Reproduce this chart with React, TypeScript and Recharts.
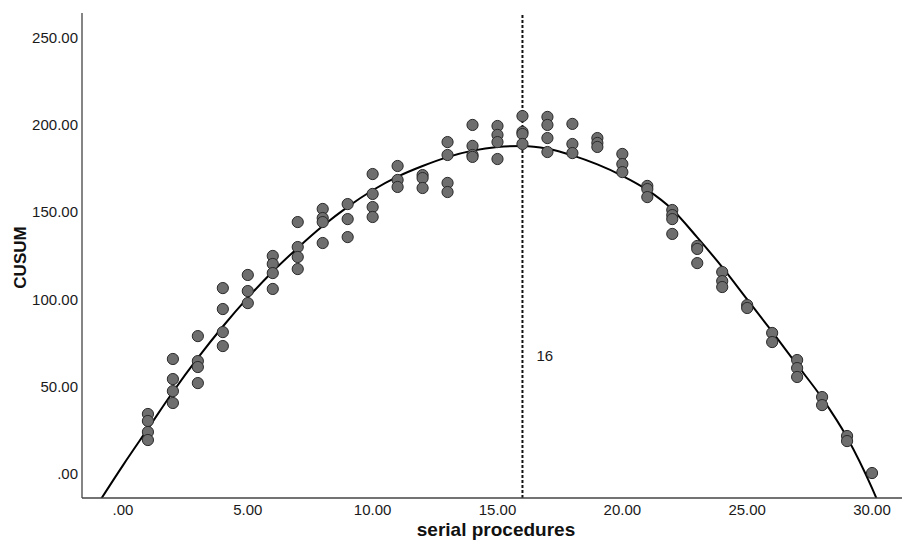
import {
  ComposedChart,
  Scatter,
  Line,
  XAxis,
  YAxis,
  ReferenceLine,
} from "recharts";

const FONT = '"Liberation Sans", Arial, sans-serif';

// serial procedure number for each group of CUSUM readings
const procedures = [
  1, 2, 3, 4, 5, 6, 7, 8, 9, 10, 11, 12, 13, 14, 15, 16, 17, 18, 19, 20, 21, 22, 23, 24, 25,
  26, 27, 28, 29, 30,
];

// CUSUM values read at each procedure (same order as procedures)
const cusumValues: number[][] = [
  [34.4, 30.4, 24.1, 19.5],
  [65.9, 54.4, 47.5, 40.7],
  [79.0, 64.7, 61.3, 52.1],
  [106.5, 94.5, 81.3, 73.3],
  [114.0, 104.8, 97.9],
  [124.9, 120.3, 115.1, 106.0],
  [144.3, 130.0, 124.3, 117.4],
  [151.8, 146.6, 144.3, 132.3],
  [154.6, 146.0, 135.7],
  [171.8, 160.4, 152.9, 147.2],
  [176.4, 168.4, 164.4],
  [171.2, 169.5, 163.8],
  [190.1, 182.7, 166.7, 161.5],
  [199.9, 187.9, 182.7, 181.6],
  [199.3, 194.2, 190.1, 180.4],
  [205.0, 195.9, 194.7, 189.0],
  [204.5, 199.9, 192.4, 184.4],
  [200.5, 189.0, 183.8],
  [192.4, 189.6, 187.3],
  [183.3, 177.5, 172.9],
  [165.0, 163.2, 158.6],
  [151.2, 148.3, 146.0, 137.5],
  [130.6, 128.9, 120.8],
  [115.7, 110.5, 107.1],
  [96.8, 95.1],
  [80.8, 75.6],
  [65.3, 60.7, 55.6],
  [44.1, 39.5],
  [21.8, 18.9],
  [0.6],
];

// fitted curve
const fitX = [
  -1, 0, 1, 2, 3, 4, 5, 6, 7, 8, 9, 10, 11, 12, 13, 14, 15, 16, 17, 18, 19, 20, 21, 22, 23,
  24, 25, 26, 27, 28, 29, 30, 30.5,
];
const fitY = [
  -17, 5, 26, 47, 66.5, 84.5, 101, 116, 129.5, 142, 153, 162.5, 170.3, 176.4, 181.5, 185.2,
  187.3, 187.9, 186.3, 182.5, 177.3, 170.8, 162.7, 151.5, 135.5, 118.5, 100, 81.5, 62.5,
  43.5, 21, -8, -25,
];

const xTicks = [0, 5, 10, 15, 20, 25, 30];
const yTicks = [0, 50, 100, 150, 200, 250];
const changePoint = 16;

const fmt = (v: number) => (v === 0 ? ".00" : v.toFixed(2));

const points = procedures.flatMap((p, i) => cusumValues[i].map((y) => ({ x: p, y })));
const curve = fitX.map((x, i) => ({ x, y: fitY[i] }));

const Dot = (props: any) => (
  <circle cx={props.cx} cy={props.cy} r={5.6} fill="#6e6e6e" stroke="#2a2a2a" strokeWidth={1} />
);

export default function App() {
  return (
    <div style={{ position: "absolute", left: 0, top: 0, width: 903, height: 540, background: "#fff" }}>
      <ComposedChart
        width={903}
        height={540}
        margin={{ top: 13, right: 1, bottom: 0, left: 10 }}
        style={{ fontFamily: FONT }}
      >
        <XAxis
          xAxisId="top"
          orientation="top"
          type="number"
          dataKey="x"
          domain={[-1.64, 31.2]}
          height={0}
          tick={false}
          tickLine={false}
          axisLine={{ stroke: "#444", strokeWidth: 1.3 }}
        />
        <XAxis
          type="number"
          dataKey="x"
          domain={[-1.64, 31.2]}
          allowDataOverflow
          ticks={xTicks}
          tickFormatter={fmt}
          height={42}
          tickLine={false}
          tickSize={6}
          tickMargin={0}
          axisLine={{ stroke: "#444", strokeWidth: 1.3 }}
          tick={{ fill: "#1a1a1a", fontSize: 15, fontFamily: FONT }}
          label={{
            content: ({ viewBox }: any) => (
              <text
                x={viewBox.x + viewBox.width / 2 + 4}
                y={536}
                textAnchor="middle"
                fontSize={19}
                fontWeight="bold"
                fill="#111"
                fontFamily={FONT}
              >
                serial procedures
              </text>
            ),
          }}
        />
        <YAxis
          type="number"
          dataKey="y"
          domain={[-13.7, 264]}
          allowDataOverflow
          ticks={yTicks}
          tickFormatter={fmt}
          width={72}
          tickLine={false}
          tickSize={4}
          tickMargin={0}
          axisLine={{ stroke: "#444", strokeWidth: 1.3 }}
          tick={{ fill: "#1a1a1a", fontSize: 15, fontFamily: FONT }}
          label={{
            content: ({ viewBox }: any) => {
              const cx = 20;
              const cy = viewBox.y + viewBox.height / 2 + 2;
              return (
                <text
                  x={cx}
                  y={cy}
                  transform={`rotate(-90 ${cx} ${cy})`}
                  textAnchor="middle"
                  dominantBaseline="central"
                  fontSize={17}
                  fontWeight="bold"
                  fill="#111"
                  fontFamily={FONT}
                >
                  CUSUM
                </text>
              );
            },
          }}
        />
        <ReferenceLine
          x={changePoint}
          stroke="#111"
          strokeWidth={2}
          strokeDasharray="3 2"
          label={{
            content: ({ viewBox }: any) => (
              <text
                x={viewBox.x + 14}
                y={viewBox.y + viewBox.height * 0.707}
                dominantBaseline="central"
                fontSize={15}
                fill="#1a1a1a"
                fontFamily={FONT}
              >
                {changePoint}
              </text>
            ),
          }}
        />
        <Scatter data={points} dataKey="y" shape={Dot} isAnimationActive={false} />
        <Line
          data={curve}
          dataKey="y"
          type="monotone"
          stroke="#000"
          strokeWidth={2}
          dot={false}
          activeDot={false}
          isAnimationActive={false}
        />
      </ComposedChart>
    </div>
  );
}
